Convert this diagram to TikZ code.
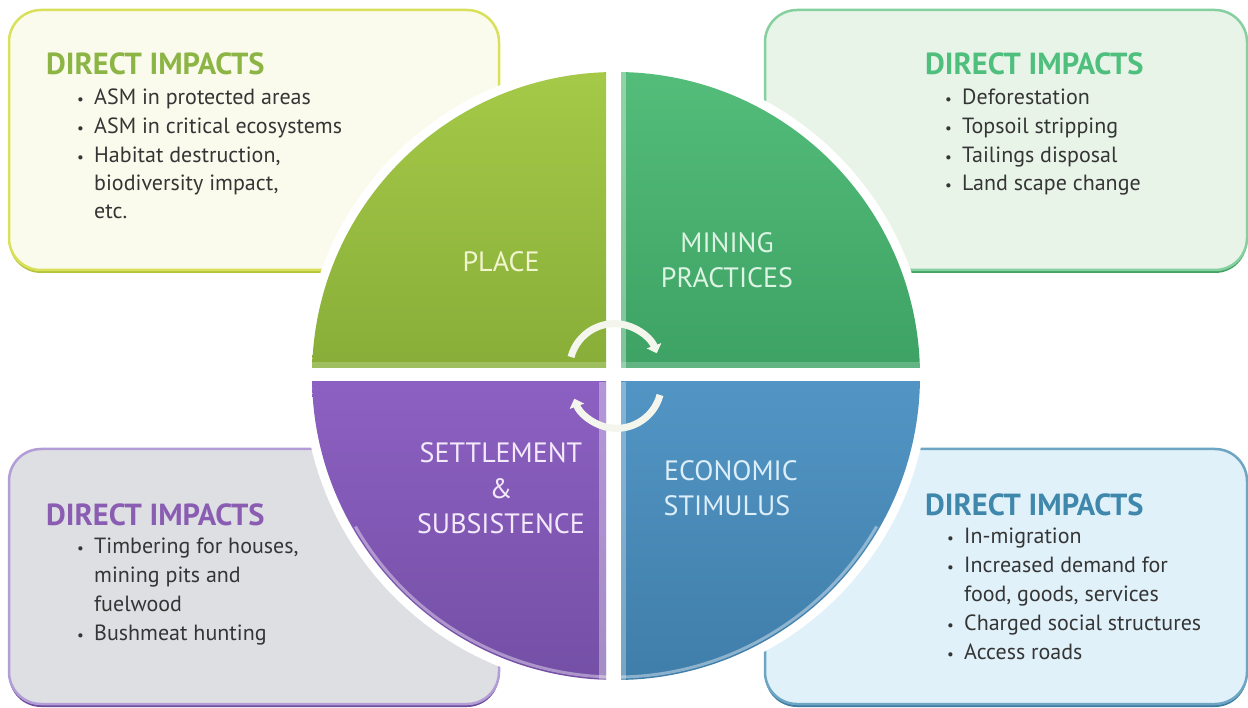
\documentclass[tikz,border=0pt]{standalone}
\usepackage{fontspec}
\setmainfont{PT Sans}
\usetikzlibrary{arrows.meta}
\definecolor{bodytext}{HTML}{353535}
\definecolor{tlfill}{HTML}{FAFBEC}\definecolor{tlborder}{HTML}{D9E15A}\definecolor{tlshadow}{HTML}{B5C43A}\definecolor{tlhead}{HTML}{8CB545}
\definecolor{trfill}{HTML}{E9F4E9}\definecolor{trborder}{HTML}{86D0A0}\definecolor{trshadow}{HTML}{3FA560}\definecolor{trhead}{HTML}{4EBF7D}
\definecolor{blfill}{HTML}{DDDFE3}\definecolor{blborder}{HTML}{B39DD6}\definecolor{blshadow}{HTML}{6E4C9E}\definecolor{blhead}{HTML}{8A5DB3}
\definecolor{brfill}{HTML}{E0F1FA}\definecolor{brborder}{HTML}{6EA5C2}\definecolor{brshadow}{HTML}{3C7DA0}\definecolor{brhead}{HTML}{3F88AC}
\definecolor{qtlA}{HTML}{A6CA48}\definecolor{qtlB}{HTML}{88AE39}
\definecolor{qtrA}{HTML}{55BE7B}\definecolor{qtrB}{HTML}{3DA264}
\definecolor{qblA}{HTML}{8C60C2}\definecolor{qblB}{HTML}{744FA5}
\definecolor{qbrA}{HTML}{5295C4}\definecolor{qbrB}{HTML}{3F7DA9}
\definecolor{ltl}{HTML}{F2F6D0}\definecolor{ltr}{HTML}{DDF3E3}\definecolor{lbl}{HTML}{F3E9FB}\definecolor{lbr}{HTML}{DCEEF9}
\definecolor{arrowc}{HTML}{F4F6EE}
\begin{document}
\begin{tikzpicture}[x=1pt,y=-1pt,
  panel/.style={rounded corners=32pt, line width=2.5pt},
  panelshadow/.style={rounded corners=32pt},
  head/.style={anchor=base west, inner sep=0pt, font=\fontsize{30.5}{30}\bfseries\selectfont},
  item/.style={anchor=base west, inner sep=0pt, text=bodytext, font=\fontsize{22}{28}\selectfont},
  bul/.style={anchor=base west, inner sep=0pt, text=bodytext, font=\fontsize{15}{15}\selectfont},
  quadlabel/.style={anchor=base, inner sep=0pt, font=\fontsize{28}{35}\selectfont},
  cyclearrow/.style={draw=arrowc, line width=7pt, -{Triangle[length=8pt,width=15pt]}}
]
\useasboundingbox (0,0) rectangle (1248,708);
\fill[white] (0,0) rectangle (1248,708);

% ---- panels
\fill[panelshadow, tlshadow] (9,13) rectangle (499,273);
\draw[panel, draw=tlborder, fill=tlfill] (9,10) rectangle (499,270);
\fill[panelshadow, trshadow] (765,13) rectangle (1247,273);
\draw[panel, draw=trborder, fill=trfill] (765,10) rectangle (1247,270);
\fill[panelshadow, blshadow] (9,452) rectangle (499,707);
\draw[panel, draw=blborder, fill=blfill] (9,449) rectangle (499,704);
\fill[panelshadow, brshadow] (765,452) rectangle (1247,707);
\draw[panel, draw=brborder, fill=brfill] (765,449) rectangle (1247,704);

% ---- top-left text
\node[head, text=tlhead] (tlh) at (46,75) {DIRECT IMPACTS};
\node[bul] (tlb1) at (77,105) {•}; \node[item] (tl1) at (94,105) {ASM in protected areas};
\node[bul] (tlb2) at (77,134) {•}; \node[item] (tl2) at (94,134) {ASM in critical ecosystems};
\node[bul] (tlb3) at (77,163) {•}; \node[item] (tl3) at (94,163) {Habitat destruction,};
\node[item] (tl4) at (94,191) {biodiversity impact,};
\node[item] (tl5) at (94,219) {etc.};

% ---- top-right text
\node[head, text=trhead] (trh) at (925,75) {DIRECT IMPACTS};
\node[bul] (trb1) at (945,105) {•}; \node[item] (tr1) at (962,105) {Deforestation};
\node[bul] (trb2) at (945,134) {•}; \node[item] (tr2) at (962,134) {Topsoil stripping};
\node[bul] (trb3) at (945,163) {•}; \node[item] (tr3) at (962,163) {Tailings disposal};
\node[bul] (trb4) at (945,191) {•}; \node[item] (tr4) at (962,191) {Land scape change};

% ---- bottom-left text
\node[head, text=blhead] (blh) at (46,525) {DIRECT IMPACTS};
\node[bul] (blb1) at (77,553) {•}; \node[item] (bl1) at (94,553) {Timbering for houses,};
\node[item] (bl2) at (94,582) {mining pits and};
\node[item] (bl3) at (94,611) {fuelwood};
\node[bul] (blb2) at (77,640) {•}; \node[item] (bl4) at (94,640) {Bushmeat hunting};

% ---- bottom-right text
\node[head, text=brhead] (brh) at (925,515) {DIRECT IMPACTS};
\node[bul] (brb1) at (947,543) {•}; \node[item] (br1) at (964,543) {In-migration};
\node[bul] (brb2) at (947,572) {•}; \node[item] (br2) at (964,572) {Increased demand for};
\node[item] (br3) at (964,601) {food, goods, services};
\node[bul] (brb3) at (947,630) {•}; \node[item] (br4) at (964,630) {Charged social structures};
\node[bul] (brb4) at (947,659) {•}; \node[item] (br5) at (964,659) {Access roads};

% ---- central disc
\coordinate (cc) at (616,376);
\fill[white] (cc) circle[radius=313];
\begin{scope}
  \clip (cc) circle[radius=304];
  \shade[top color=qtlA, bottom color=qtlB] (300,60) rectangle (606,368);
  \shade[top color=qtrA, bottom color=qtrB] (621,60) rectangle (930,368);
  \shade[top color=qblA, bottom color=qblB] (300,382) rectangle (606,690);
  \shade[top color=qbrA, bottom color=qbrB] (621,382) rectangle (930,690);
  % soft bevels along the white cross
  \fill[white, opacity=0.35] (621,60) rectangle (626,368);
  \fill[white, opacity=0.35] (599,382) rectangle (606,690);
  \fill[white, opacity=0.30] (621,382) rectangle (626,690);
  \fill[white, opacity=0.20] (300,362) rectangle (606,368);
  \fill[white, opacity=0.20] (621,362) rectangle (930,368);
  % light rim along the lower edge of the disc
  \draw[white, opacity=0.4, line width=3pt] (cc) ++(150:301) arc[start angle=150, end angle=30, radius=301];
\end{scope}

% ---- quadrant labels
\node[quadlabel, text=ltl] (place) at (501,272) {PLACE};
\node[quadlabel, text=ltr] (mining) at (727,253) {MINING};
\node[quadlabel, text=ltr] (practices) at (727,288) {PRACTICES};
\node[quadlabel, text=lbl] (settlement) at (501,463) {SETTLEMENT};
\node[quadlabel, text=lbl] (amp) at (501,498) {\&};
\node[quadlabel, text=lbl] (subsistence) at (501,533) {SUBSISTENCE};
\node[quadlabel, text=lbr] (economic) at (731,480) {ECONOMIC};
\node[quadlabel, text=lbr] (stimulus) at (727,515) {STIMULUS};

% ---- cycle arrows
\coordinate (arrTop) at (571,357);
\coordinate (arrBot) at (660,395);
\draw[cyclearrow] (arrTop) arc[start angle=195, end angle=340, radius=45];
\draw[cyclearrow] (arrBot) arc[start angle=15, end angle=160, radius=45];
\end{tikzpicture}
\end{document}
